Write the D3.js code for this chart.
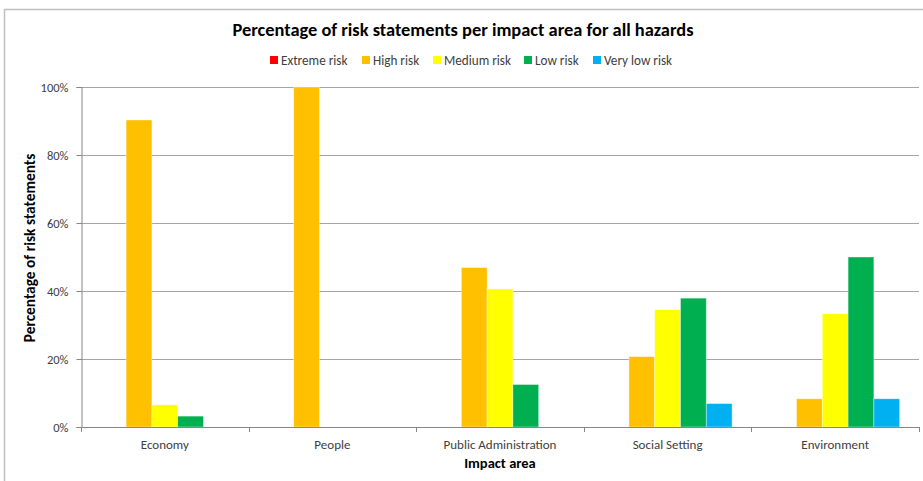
<!DOCTYPE html>
<html><head><meta charset="utf-8">
<script src="https://cdn.jsdelivr.net/npm/d3@7"></script>
<style>
body{margin:0;background:#fff;}
text{font-family:Carlito,Lato,"Open Sans",sans-serif;}
</style></head>
<body>
<svg id="chart" width="923" height="481"></svg>
<script>
const categories = ["Economy","People","Public Administration","Social Setting","Environment"];
const seriesNames = ["Extreme risk","High risk","Medium risk","Low risk","Very low risk"];
const seriesColors = ["#FF0000","#FFC000","#FFFF00","#00B050","#00B0F0"];
const extremeRisk = [0,0,0,0,0];
const highRisk = [90.3,100,46.9,20.7,8.3];
const mediumRisk = [6.5,0,40.6,34.5,33.3];
const lowRisk = [3.2,0,12.5,37.9,50.0];
const veryLowRisk = [0,0,0,6.9,8.3];
const yTicks = [0,20,40,60,80,100];

const seriesValues = [extremeRisk, highRisk, mediumRisk, lowRisk, veryLowRisk];
const svg = d3.select("#chart");
const W = 923, H = 481;
const m = {left:81, right:4, top:87, bottom:54};
const x0 = d3.scaleBand().domain(categories).range([m.left, W - m.right]).paddingInner(0).paddingOuter(0);
const y = d3.scaleLinear().domain([0,100]).range([H - m.bottom, m.top]);

// border
svg.append("path").attr("d", `M4.5,${H} L4.5,9.5 L${W},9.5`).attr("fill","none").attr("stroke","#BFBFBF").attr("stroke-width",1.5);

// gridlines
svg.append("g").selectAll("line").data(yTicks.filter(d=>d>0)).join("line")
  .attr("x1", m.left).attr("x2", W - m.right)
  .attr("y1", d=>Math.round(y(d))+0.5).attr("y2", d=>Math.round(y(d))+0.5)
  .attr("stroke","#A6A6A6").attr("stroke-width",1);

// bars
const band = x0.bandwidth();
const barW = band / (seriesNames.length + 1.5);
const x1 = d3.scaleBand().domain(seriesNames).range([0, barW*seriesNames.length]).padding(0);
const groups = svg.append("g").selectAll("g").data(categories).join("g")
  .attr("transform", c => `translate(${x0(c) + (band - barW*seriesNames.length)/2},0)`);
groups.selectAll("rect").data((c,i) => seriesNames.map((s,j) => ({s, v: seriesValues[j][i], color: seriesColors[j]})))
  .join("rect")
  .filter(d => d.v > 0)
  .attr("x", d => x1(d.s)).attr("width", x1.bandwidth())
  .attr("y", d => y(d.v)).attr("height", d => y(0) - y(d.v))
  .attr("fill", d => d.color).attr("stroke","#ffffff").attr("stroke-opacity",0.5).attr("stroke-width",0.75);

// y axis
const yAxis = d3.axisLeft(y).tickValues(yTicks).tickFormat(d => d + "%").tickSize(5).tickPadding(8);
const gy = svg.append("g").attr("transform", `translate(${m.left+0.5},0)`).call(yAxis);
gy.select(".domain").attr("stroke","#868686");
gy.selectAll(".tick line").attr("stroke","#868686");
gy.selectAll(".tick text").attr("fill","#404040").style("font-size","12.5px");

// x axis
const xAxis = d3.axisBottom(x0).tickSize(0).tickPadding(12);
const gx = svg.append("g").attr("transform", `translate(0,${H - m.bottom + 0.5})`).call(xAxis);
gx.select(".domain").attr("stroke","#868686").attr("d", `M${m.left},0H${W - m.right}`);
gx.selectAll(".tick text").attr("fill","#404040").style("font-size","13px");
// category boundary ticks
svg.append("g").selectAll("line").data(d3.range(categories.length+1)).join("line")
  .attr("x1", i => Math.round(m.left + i*band)+0.5).attr("x2", i => Math.round(m.left + i*band)+0.5)
  .attr("y1", H - m.bottom).attr("y2", H - m.bottom + 5)
  .attr("stroke","#868686");

// title
svg.append("text").attr("x", 463).attr("y", 36).attr("text-anchor","middle")
  .style("font-size","18.4px").style("font-weight","bold").attr("fill","#000")
  .text("Percentage of risk statements per impact area for all hazards");

// legend
const legendX = [270, 362, 433, 524, 593];
const lg = svg.append("g").selectAll("g").data(seriesNames).join("g")
  .attr("transform", (d,i) => `translate(${legendX[i]},60)`);
lg.append("rect").attr("x",0).attr("y",-4).attr("width",8).attr("height",8).attr("fill",(d,i)=>seriesColors[i]);
lg.append("text").attr("x",11).attr("y",4.5).style("font-size","13.2px").attr("fill","#404040").text(d=>d);

// axis titles
svg.append("text").attr("transform", `translate(35,248) rotate(-90)`)
  .attr("text-anchor","middle").style("font-size","15.4px").style("font-weight","bold").attr("fill","#000")
  .text("Percentage of risk statements");
svg.append("text").attr("x", (m.left + W - m.right)/2).attr("y", 468).attr("text-anchor","middle")
  .style("font-size","14.5px").style("font-weight","bold").attr("fill","#000")
  .text("Impact area");
</script>
</body></html>
